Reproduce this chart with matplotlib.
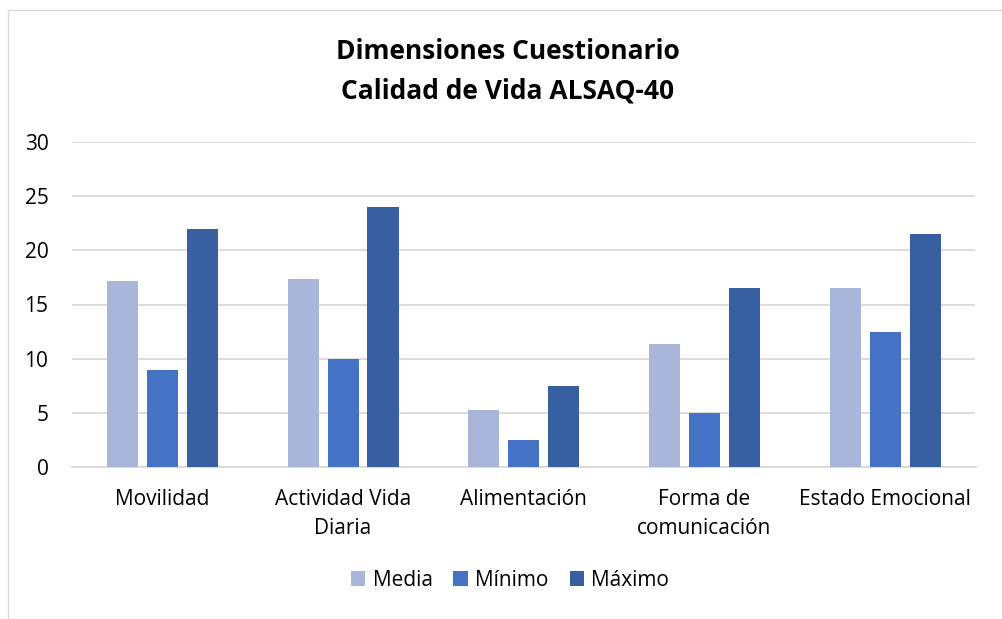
import matplotlib.pyplot as plt
import matplotlib.patches as mpatches
import numpy as np

# Datos
categorias = ["Movilidad", "Actividad Vida\nDiaria", "Alimentación",
              "Forma de\ncomunicación", "Estado Emocional"]
media = [17.2, 17.4, 5.3, 11.4, 16.5]
minimo = [9, 10, 2.5, 5, 12.5]
maximo = [22, 24, 7.5, 16.5, 21.5]
series = ["Media", "Mínimo", "Máximo"]
colores = ["#A9B6DA", "#4472C4", "#375FA2"]

plt.rcParams["font.family"] = ["Open Sans", "DejaVu Sans"]

fig = plt.figure(figsize=(10.03, 6.19), dpi=100)
ax = fig.add_axes([72 / 1003, 152 / 619, 903.5 / 1003, 325 / 619])

x = np.arange(len(categorias))
ancho = 0.172
paso = 0.221
for i, (vals, nombre) in enumerate(zip([media, minimo, maximo], series)):
    ax.bar(x + (i - 1) * paso, vals, width=ancho, color=colores[i],
           label=nombre, zorder=3)

ax.set_xlim(-0.5, len(categorias) - 0.5)
ax.set_ylim(0, 30)
ax.set_yticks(range(0, 31, 5))
ax.set_xticks(x)
ax.set_xticklabels(categorias, fontsize=15, linespacing=1.5)
ax.tick_params(axis="both", length=0, labelsize=15)
ax.tick_params(axis="y", pad=17)
ax.tick_params(axis="x", pad=16)
ax.grid(axis="y", color="#D9D9D9", linewidth=1.3, zorder=0)
for s in ["top", "right", "left"]:
    ax.spines[s].set_visible(False)
ax.spines["bottom"].set_color("#D9D9D9")
ax.spines["bottom"].set_linewidth(1.3)

fig.text(508 / 1003, 1 - 71 / 619, "Dimensiones Cuestionario\nCalidad de Vida ALSAQ-40",
         ha="center", va="center", fontsize=19, fontweight="bold", linespacing=1.6)

fig.legend(loc="center", bbox_to_anchor=(510 / 1003, 1 - 580 / 619), ncol=3,
           frameon=False, fontsize=15, handlelength=0.7, handleheight=0.7,
           handletextpad=0.35, columnspacing=1.0)

# marco del gráfico
fig.patches.append(mpatches.Rectangle((8 / 1003, -0.1), 1.1, 1 - 10 / 619 + 0.1,
                                      transform=fig.transFigure, fill=False,
                                      edgecolor="#D9D9D9", linewidth=1.0))

fig.savefig("out.png", dpi=100, facecolor="white")
